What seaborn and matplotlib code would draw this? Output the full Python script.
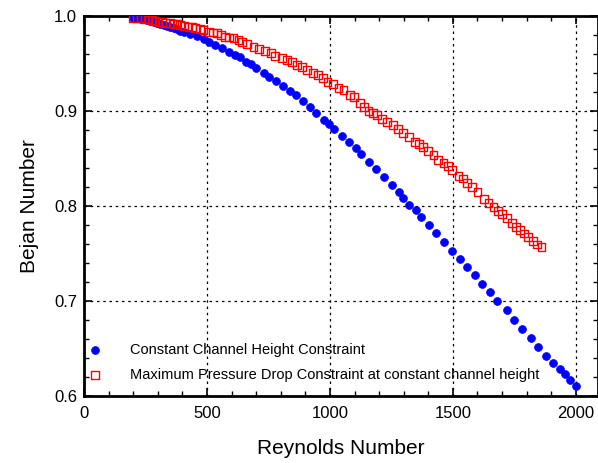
import matplotlib
matplotlib.use("Agg")
import matplotlib.pyplot as plt
from matplotlib.ticker import MultipleLocator
import seaborn as sns
import pandas as pd

re_blue = [200, 215, 230, 242, 256, 270, 284, 297, 310, 324, 338, 351, 365, 378, 392, 405,
           432, 459, 486, 507, 534, 561, 588, 615, 635, 659, 679, 699, 730, 753, 782, 811,
           839, 863, 889, 917, 945, 975, 995, 1017, 1049, 1076, 1107, 1127, 1157, 1187,
           1221, 1252, 1279, 1299, 1322, 1348, 1370, 1401, 1431, 1463, 1496, 1527, 1557,
           1588, 1620, 1652, 1681, 1718, 1750, 1783, 1818, 1848, 1880, 1908, 1935, 1954,
           1977, 2000]
be_blue = [0.998, 0.9975, 0.997, 0.9965, 0.996, 0.995, 0.994, 0.993, 0.992, 0.9908, 0.9897,
           0.9887, 0.9873, 0.986, 0.9847, 0.9835, 0.981, 0.979, 0.976, 0.973, 0.970, 0.9666,
           0.9624, 0.959, 0.957, 0.9519, 0.9491, 0.9456, 0.9403, 0.9361, 0.9316, 0.9263,
           0.9214, 0.9165, 0.9105, 0.9045, 0.898, 0.891, 0.886, 0.8807, 0.874, 0.8677,
           0.8614, 0.8544, 0.8467, 0.8389, 0.8302, 0.8218, 0.815, 0.8087, 0.801, 0.7958,
           0.7887, 0.780, 0.7713, 0.7621, 0.753, 0.7445, 0.736, 0.7274, 0.7176, 0.7092,
           0.700, 0.6902, 0.680, 0.6705, 0.661, 0.6519, 0.6424, 0.6351, 0.6287, 0.6228,
           0.6168, 0.6105]

re_red = [200, 215, 230, 249, 262, 276, 290, 303, 316, 330, 351, 365, 378, 392, 405, 425,
          440, 452, 470, 486, 507, 524, 541, 557, 574, 591, 608, 628, 642, 663, 689, 710,
          737, 761, 778, 805, 825, 846, 866, 886, 907, 931, 950, 972, 990, 1012, 1035,
          1055, 1080, 1099, 1123, 1140, 1157, 1175, 1191, 1212, 1232, 1255, 1276, 1297,
          1320, 1347, 1362, 1380, 1400, 1421, 1441, 1462, 1480, 1496, 1523, 1540, 1557,
          1577, 1600, 1627, 1645, 1665, 1683, 1699, 1720, 1740, 1757, 1774, 1790, 1807,
          1825, 1843, 1860]
be_red = [0.998, 0.9977, 0.9975, 0.9968, 0.9963, 0.9958, 0.995, 0.994, 0.9935, 0.993,
          0.9923, 0.9918, 0.9913, 0.9905, 0.9898, 0.9888, 0.988, 0.987, 0.9862, 0.9853,
          0.9835, 0.9826, 0.9818, 0.980, 0.9782, 0.9774, 0.9765, 0.9747, 0.9725, 0.9702,
          0.9677, 0.9649, 0.9634, 0.9607, 0.9582, 0.9554, 0.9537, 0.9512, 0.9484, 0.946,
          0.9432, 0.9397, 0.9379, 0.9344, 0.9309, 0.9281, 0.9246, 0.9221, 0.9168, 0.9144,
          0.908, 0.904, 0.9003, 0.898, 0.8958, 0.892, 0.8887, 0.885, 0.8807, 0.8772,
          0.8729, 0.8677, 0.865, 0.8618, 0.858, 0.8537, 0.8484, 0.8456, 0.842, 0.8379,
          0.8319, 0.829, 0.8245, 0.8197, 0.8144, 0.8074, 0.803, 0.7986, 0.795, 0.7916,
          0.7871, 0.7824, 0.778, 0.7747, 0.771, 0.7677, 0.763, 0.7595, 0.7565]

label_blue = "Constant Channel Height Constraint"
label_red = "Maximum Pressure Drop Constraint at constant channel height"

sns.set_style("white")
plt.rcParams['font.family'] = ['Liberation Sans', 'DejaVu Sans']
plt.rcParams['text.color'] = 'black'
plt.rcParams['axes.labelcolor'] = 'black'

df_blue = pd.DataFrame({"Re": re_blue, "Be": be_blue})
df_red = pd.DataFrame({"Re": re_red, "Be": be_red})

fig = plt.figure(figsize=(5.98, 4.63), dpi=100)
ax = fig.add_axes([84 / 598, 67 / 463, 514 / 598, 380 / 463])

sns.scatterplot(data=df_blue, x="Re", y="Be", ax=ax, marker="o", s=32,
                color="#0000ff", edgecolor="#0000ff", linewidth=0.5, label=label_blue, zorder=3)
sns.scatterplot(data=df_red, x="Re", y="Be", ax=ax, marker="s", s=32,
                fc="none", ec="#ff0000", linewidth=1.0, label=label_red, zorder=3)

ax.set_xlim(0, 2090)
ax.set_ylim(0.6, 1.0)
ax.xaxis.set_minor_locator(MultipleLocator(100))
ax.yaxis.set_minor_locator(MultipleLocator(0.02))
ax.set_xticks([0, 500, 1000, 1500, 2000])
ax.set_xticklabels(["0", "500", "1000", "1500", "2000"])
ax.set_yticks([0.6, 0.7, 0.8, 0.9, 1.0])
ax.set_yticklabels(["0.6", "0.7", "0.8", "0.9", "1.0"])

ax.tick_params(which="both", direction="in", top=True, right=True, bottom=True, left=True,
               colors="black", labelsize=12, labelcolor="black")
ax.tick_params(which="major", length=6, width=1.2)
ax.tick_params(which="minor", length=3.5, width=1.0)
ax.tick_params(axis="x", which="major", pad=7)
ax.tick_params(axis="y", which="major", pad=5)
for sp in ax.spines.values():
    sp.set_linewidth(2)
    sp.set_color("black")
    sp.set_visible(True)

ax.grid(True, which="major", color="black", linestyle=(0, (2, 3)), linewidth=0.9)
ax.set_axisbelow(True)

ax.set_xlabel("Reynolds Number", fontsize=15, labelpad=13)
ax.set_ylabel("Bejan Number", fontsize=15, labelpad=11)

leg = ax.legend(loc="lower left", frameon=False, fontsize=10.5, handlelength=1.0,
                handletextpad=1.85, labelspacing=0.75, borderaxespad=0.3,
                bbox_to_anchor=(-0.012, 0.01))

fig.savefig("out.png", dpi=100)
